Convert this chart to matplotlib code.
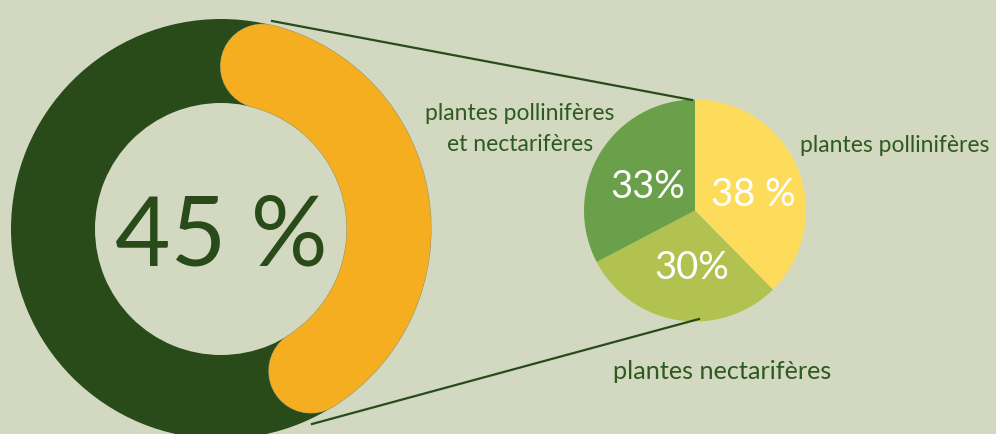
import matplotlib.pyplot as plt
from matplotlib.patches import Wedge, Arc

plt.rcParams['font.family'] = ['Lato', 'DejaVu Sans']

# data
share = 45  # percent shown in the ring
share_label = '45 %'
pie_values = [38, 30, 33]
pie_labels = ['38 %', '30%', '33%']
pie_colors = ['#fddc5c', '#b1c250', '#6aa04a']
cat_labels = ['plantes pollinifères', 'plantes nectarifères',
              'plantes pollinifères\net nectarifères']

bg = '#d3d9c1'
dark = '#284b19'
orange = '#f5ae1f'
text_col = '#2e5a1f'

W, H = 996, 435
fig = plt.figure(figsize=(W / 100, H / 100), dpi=100, facecolor=bg)
ax = fig.add_axes([0, 0, 1, 1])
ax.set_facecolor(bg)

# ring (image coords converted to y-up)
cx, cy = 221, H - 230
r_out, r_in = 210, 126
band = r_out - r_in
r_mid = (r_out + r_in) / 2
ax.add_patch(Wedge((cx, cy), r_out, 0, 360, width=band, color=dark, lw=0))

# orange arc with rounded ends, total length incl. caps = share of circle
span = share / 100 * 360
cap = (band / 2) / r_mid * 180 / 3.14159
lw = band * 72 / 100
t1 = 90 - (span - cap)
t2 = 90 - cap
ax.add_patch(Arc((cx, cy), 2 * r_mid, 2 * r_mid, theta1=t1, theta2=t2,
                 lw=lw + 0.8, color='#9a9a6a', capstyle='round'))
ax.add_patch(Arc((cx, cy), 2 * r_mid, 2 * r_mid, theta1=t1, theta2=t2,
                 lw=lw, color=orange, capstyle='round'))
ax.text(cx, cy - 8, share_label, ha='center', va='center', fontsize=69,
        color=dark)

# pie
px, py, pr = 695, H - 211.5, 111
ax.pie(pie_values, colors=pie_colors, startangle=90, counterclock=False,
       center=(px, py), radius=pr, wedgeprops={'linewidth': 0})
label_pos = [(753, 195), (692, 268), (648, 187)]
for lab, (x, y) in zip(pie_labels, label_pos):
    ax.text(x, H - y, lab, ha='center', va='center', fontsize=27.5,
            color='white')

# connector lines
ax.plot([272, 692], [H - 22, H - 101], color=dark, lw=1.6)
ax.plot([312, 699], [H - 425, H - 320], color=dark, lw=1.6)

# category labels
ax.text(895, H - 145, cat_labels[0], ha='center', va='center', fontsize=16.5,
        color=text_col)
ax.text(722, H - 372, cat_labels[1], ha='center', va='center', fontsize=18.2,
        color=text_col)
ax.text(520, H - 129, cat_labels[2], ha='center', va='center', fontsize=16.5,
        color=text_col, linespacing=1.6)

ax.set_xlim(0, W)
ax.set_ylim(0, H)
ax.set_aspect('equal')
ax.axis('off')

fig.savefig('out.png', dpi=100, facecolor=bg)
